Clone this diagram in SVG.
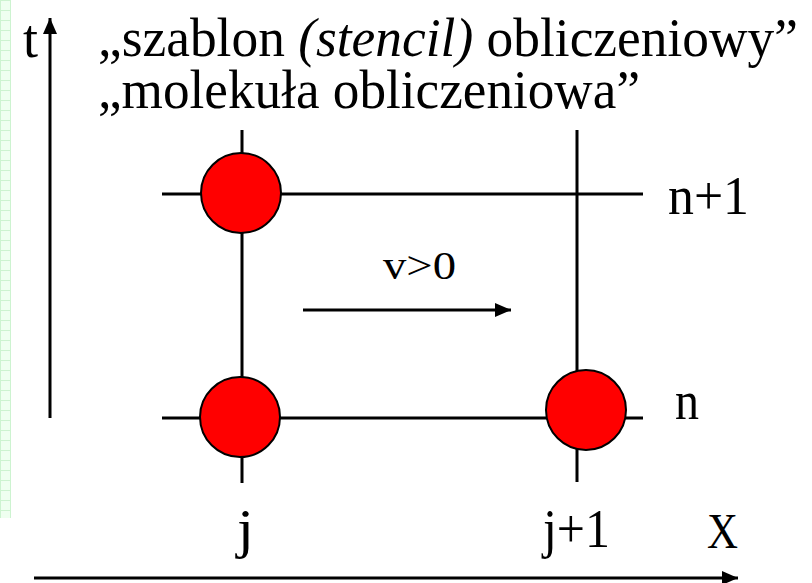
<svg xmlns="http://www.w3.org/2000/svg" width="812" height="583" viewBox="0 0 812 583">
<defs>
<pattern id="grid" width="10" height="10" patternUnits="userSpaceOnUse">
<rect width="10" height="10" fill="#effff0"/>
<path d="M0 0.5H10M0.5 0V10" stroke="#cdf3d0" stroke-width="1" fill="none"/>
</pattern>
<marker id="ah" markerWidth="16" markerHeight="14" refX="16" refY="7" orient="auto" markerUnits="userSpaceOnUse">
<path d="M0 0L16 7L0 14Z" fill="#000"/>
</marker>
</defs>
<style>
text{font-family:'Liberation Serif',serif;fill:#000}
.ln{stroke:#000;stroke-width:3;fill:none}
.nd{fill:#ff0000;stroke:#000;stroke-width:2}
</style>
<rect x="0" y="0" width="11" height="518" fill="url(#grid)"/>
<g id="connectors">
<line class="ln" x1="50" y1="418" x2="50" y2="18" marker-end="url(#ah)"/>
<line class="ln" x1="34" y1="578" x2="738" y2="578" marker-end="url(#ah)"/>
<line class="ln" x1="162" y1="194" x2="643" y2="194"/>
<line class="ln" x1="162" y1="418" x2="643" y2="418"/>
<line class="ln" x1="242" y1="130" x2="242" y2="483"/>
<line class="ln" x1="577" y1="130" x2="577" y2="482"/>
<line class="ln" x1="303" y1="310" x2="511" y2="310" stroke-width="2.5" marker-end="url(#ah)"/>
</g>
<g id="node-j-n1"><circle class="nd" cx="241" cy="193" r="40"/></g>
<g id="node-j-n"><circle class="nd" cx="240" cy="417" r="40"/></g>
<g id="node-j1-n"><circle class="nd" cx="586" cy="410" r="40"/></g>
<g id="labels">
<text font-family="Liberation Serif, serif" x="23" y="57" font-size="54">t</text>
<text font-family="Liberation Serif, serif" x="98" y="56" font-size="55" textLength="700" lengthAdjust="spacingAndGlyphs">„szablon <tspan font-style="italic">(stencil)</tspan> obliczeniowy”</text>
<text font-family="Liberation Serif, serif" x="98" y="108" font-size="55" textLength="542" lengthAdjust="spacingAndGlyphs">„molekuła obliczeniowa”</text>
<text font-family="Liberation Serif, serif" x="668" y="214" font-size="54" textLength="81" lengthAdjust="spacingAndGlyphs">n+1</text>
<text font-family="Liberation Serif, serif" x="675" y="419" font-size="54" textLength="24" lengthAdjust="spacingAndGlyphs">n</text>
<text font-family="Liberation Serif, serif" x="383" y="279" font-size="40" textLength="73" lengthAdjust="spacingAndGlyphs">v&gt;0</text>
<text font-family="Liberation Serif, serif" x="237" y="547" font-size="54" textLength="17" lengthAdjust="spacingAndGlyphs">j</text>
<text font-family="Liberation Serif, serif" x="543" y="547" font-size="54" textLength="67" lengthAdjust="spacingAndGlyphs">j+1</text>
<text font-family="Liberation Serif, serif" x="707" y="548" font-size="50" textLength="31" lengthAdjust="spacingAndGlyphs">X</text>
</g>
</svg>
